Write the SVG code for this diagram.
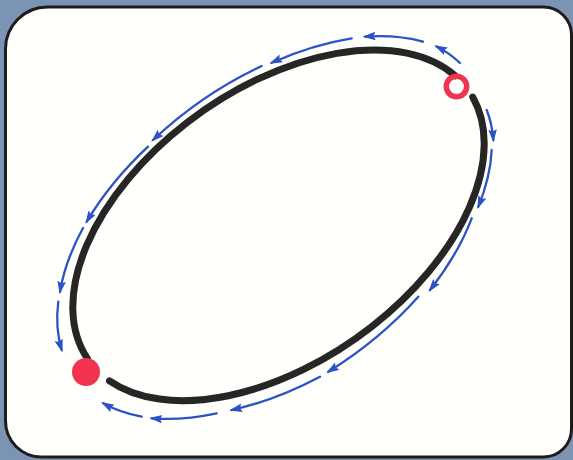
<svg xmlns="http://www.w3.org/2000/svg" width="573" height="460" viewBox="0 0 573 460">
<defs>
<style>
.track{fill:none;stroke:#262626;stroke-width:7;stroke-linecap:round}
.flow{fill:none;stroke:#2d52c6;stroke-width:2.3;stroke-linecap:round;marker-end:url(#ah)}
</style>
<marker id="ah" markerUnits="userSpaceOnUse" markerWidth="15" markerHeight="10" refX="10.5" refY="4.25" orient="auto">
<path d="M0,0 L13,4.25 L0,8.5 L2,4.25 Z" fill="#2d52c6"/>
</marker>
</defs>
<rect x="0" y="0" width="573" height="460" fill="#7c94b4"/>
<g id="card">
<path d="M 47.5 7 H 543.5 A 28 28 0 0 1 571.5 35 V 429 A 28 28 0 0 1 543.5 457 H 41.5 A 36 36 0 0 1 5.5 421 V 49 A 42 42 0 0 1 47.5 7 Z" fill="#fffffb" stroke="#1c1c1c" stroke-width="3"/>
</g>
<g id="track-upper">
<path class="track" d="M 87.44 358.63 A 233 137 -35.5 0 1 187.47 122.27 A 233 137 -35.5 0 1 455.28 75.8"/>
</g>
<g id="track-lower">
<path class="track" d="M 472.71 97.06 A 233 137 -35.5 0 1 371.94 326.46 A 233 137 -35.5 0 1 109.49 380.82"/>
</g>
<g id="connectors">
<path class="flow" d="M 460 63 A 249 146 -35.5 0 0 436.5 46.5"/>
<path class="flow" d="M 423 41.7 A 249 146 -35.5 0 0 365 36.7"/>
<path class="flow" d="M 351.7 38.3 A 249 146 -35.5 0 0 271.7 62.7"/>
<path class="flow" d="M 261.7 66 A 249 146 -35.5 0 0 153 140"/>
<path class="flow" d="M 148 146.7 A 249 146 -35.5 0 0 86.7 221.7"/>
<path class="flow" d="M 83 228 A 249 146 -35.5 0 0 60 291.7"/>
<path class="flow" d="M 58.3 301.7 A 249 146 -35.5 0 0 61.7 350"/>
<path class="flow" d="M 486.7 110 A 249 146 -35.5 0 1 493.3 140"/>
<path class="flow" d="M 491.7 150 A 249 146 -35.5 0 1 478.3 206.7"/>
<path class="flow" d="M 471.7 218.3 A 249 146 -35.5 0 1 430 290"/>
<path class="flow" d="M 418.3 296.7 A 249 146 -35.5 0 1 328.3 371.7"/>
<path class="flow" d="M 320 376.7 A 249 146 -35.5 0 1 231.7 410"/>
<path class="flow" d="M 216.7 413.3 A 249 146 -35.5 0 1 151.7 418.3"/>
<path class="flow" d="M 141.7 416.7 A 249 146 -35.5 0 1 103.3 403.3"/>
</g>
<g id="start-node">
<circle cx="456.5" cy="86.5" r="10.2" fill="none" stroke="#f0334f" stroke-width="5.5"/>
</g>
<g id="end-node">
<circle cx="86" cy="372" r="14" fill="#f0334f"/>
</g>
</svg>
